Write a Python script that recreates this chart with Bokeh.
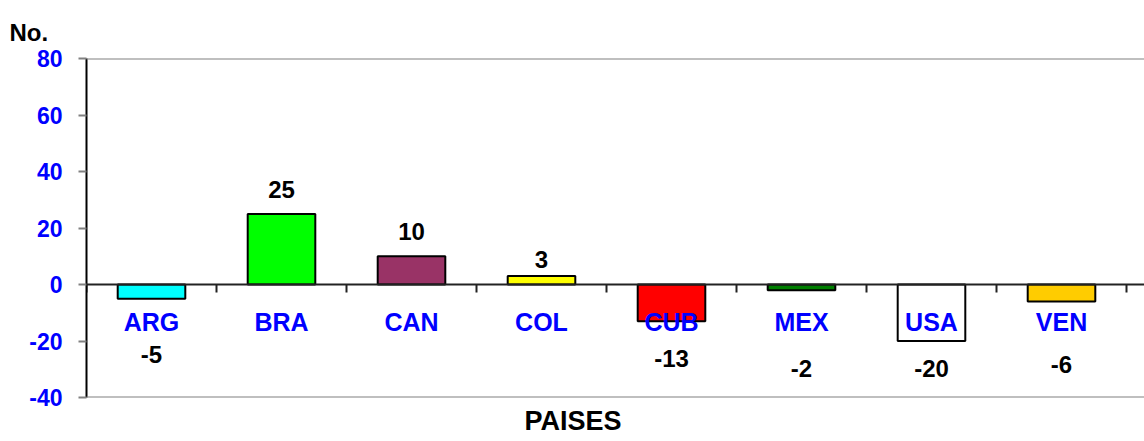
import math
from bokeh.plotting import figure
from bokeh.models import Range1d, FixedTicker, Span, Title, ColumnDataSource
from bokeh.core.properties import value
from bokeh.embed import file_html
from bokeh.resources import INLINE

# ---- data ----
categories = ["ARG", "BRA", "CAN", "COL", "CUB", "MEX", "USA", "VEN"]
values = [-5, 25, 10, 3, -13, -2, -20, -6]
bar_colors = ["#00FFFF", "#00FF00", "#993366", "#FFFF00", "#FF0000", "#008000", "#FFFFFF", "#FFCC00"]
y_ticks = [-40, -20, 0, 20, 40, 60, 80]
y_tick_labels = ["-40", "-20", "0", "20", "40", "60", "80"]
# pixel gap between bar end and its value label (style)
label_gaps = [56, 24, 25, 17, 37, 78, 27, 63]

FONT = "Liberation Sans"
BLUE = "#0000FF"

W, H = 1144, 441
LEFT, TOP, BOTTOM = 86, 58, 44
xs = list(range(1, len(categories) + 1))
cat_w_px = 130
x_max = 0.5 + (W - LEFT) / cat_w_px

p = figure(width=W, height=H, output_backend="svg", toolbar_location=None,
           x_range=Range1d(0.5, x_max), y_range=Range1d(-40, 80),
           min_border_left=LEFT, min_border_right=0, min_border_top=TOP, min_border_bottom=BOTTOM)
p.outline_line_color = None
p.background_fill_color = "white"
p.border_fill_color = "white"
p.xgrid.visible = False
p.ygrid.visible = False
p.xaxis.visible = False

yax = p.yaxis[0]
yax.ticker = FixedTicker(ticks=y_ticks)
yax.major_label_overrides = {t: s for t, s in zip(y_ticks, y_tick_labels)}
yax.axis_line_color = "black"
yax.axis_line_width = 2
yax.major_tick_line_color = "#808080"
yax.major_tick_line_width = 2
yax.major_tick_out = 8
yax.major_tick_in = 0
yax.minor_tick_line_color = None
yax.major_label_text_font = FONT
yax.major_label_text_font_style = "bold"
yax.major_label_text_font_size = "23px"
yax.major_label_text_color = BLUE
yax.major_label_standoff = 16

# top / bottom borders
p.add_layout(Span(location=80, dimension="width", line_color="#808080", line_width=2))
p.add_layout(Span(location=-40, dimension="width", line_color="#808080", line_width=2))

src = ColumnDataSource(dict(
    x=xs, top=values, color=bar_colors, cat=categories,
    lbl=[str(v) for v in values],
    off=[(-g if v >= 0 else g) for v, g in zip(values, label_gaps)],
))

p.vbar(x="x", bottom=0, top="top", width=0.52, fill_color="color",
       line_color="black", line_width=2, source=src)

# zero line
p.add_layout(Span(location=0, dimension="width", line_color="#222222", line_width=2))
# category boundary ticks
bounds = [i + 0.5 for i in range(len(categories) + 1)]
p.ray(x=bounds, y=[0] * len(bounds), length=8, length_units="screen",
      angle=-math.pi / 2, line_color="#222222", line_width=2)

# category labels
p.text(x="x", y=0, text="cat", source=src, y_offset=37,
       text_font=value(FONT), text_font_style="bold", text_font_size="25px",
       text_color=BLUE, text_align="center", text_baseline="middle")

# value labels
p.text(x="x", y="top", text="lbl", source=src, y_offset="off",
       text_font=value(FONT), text_font_style="bold", text_font_size="24px",
       text_color="black", text_align="center", text_baseline="middle")

p.add_layout(Title(text="No.", align="left", offset=-LEFT + 9, standoff=22,
                   vertical_align="top",
                   text_font=FONT, text_font_style="bold", text_font_size="24px",
                   text_color="black"), "above")
p.add_layout(Title(text="PAISES", align="left", offset=524 - LEFT, standoff=12,
                   text_font=FONT, text_font_style="bold", text_font_size="27px",
                   text_color="black"), "below")

open("out.html", "w").write(file_html(p, INLINE))
